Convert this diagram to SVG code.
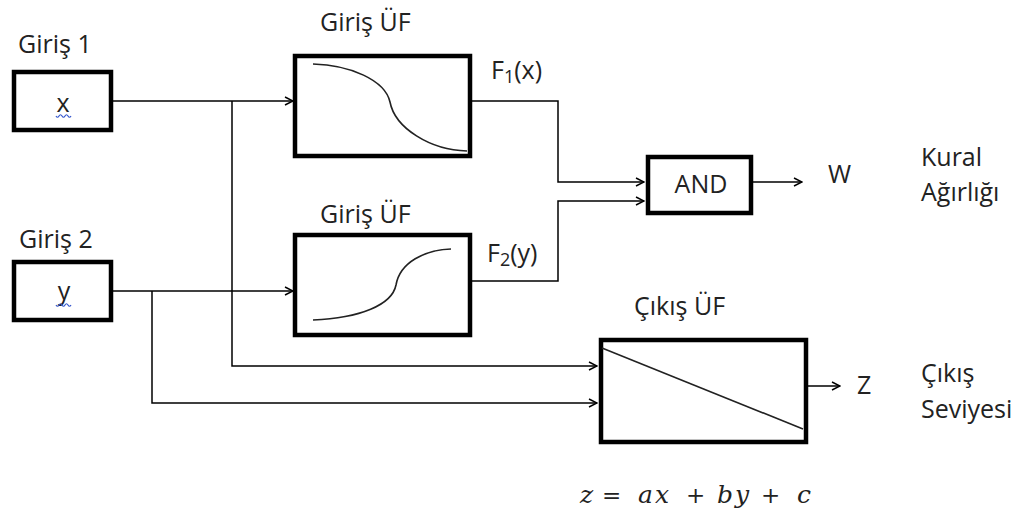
<svg xmlns="http://www.w3.org/2000/svg" width="1023" height="517" viewBox="0 0 1023 517">
  <style>
    .box { fill: #fff; stroke: #000; stroke-width: 4.5; }
    .wire { fill: none; stroke: #000; stroke-width: 1.5; }
    .curve { fill: none; stroke: #222; stroke-width: 1.6; }
    .lbl { font-family: "Open Sans", "Liberation Sans", sans-serif; font-size: 25px; fill: #222; }
    .var { font-family: "Open Sans", "Liberation Sans", sans-serif; font-size: 25px; fill: #222; text-anchor: middle; }
    .squig { fill: none; stroke: #3355cc; stroke-width: 1.2; }
    .eq { font-family: "DejaVu Serif", "Liberation Serif", serif; font-style: italic; font-size: 25px; letter-spacing: 2px; fill: #222; }
    .op { font-family: "DejaVu Serif", "Liberation Serif", serif; font-size: 23px; fill: #222; }
  </style>
  <defs>
    <marker id="arr" viewBox="0 0 10 10" refX="9" refY="5" markerWidth="10" markerHeight="10" markerUnits="userSpaceOnUse" orient="auto">
      <path d="M1,1 L9,5 L1,9" fill="none" stroke="#000" stroke-width="1.5"/>
    </marker>
  </defs>

  <rect width="1023" height="517" fill="#fff"/>

  <!-- connectors -->
  <g id="connectors">
    <path class="wire" d="M113,101 H293" marker-end="url(#arr)"/>
    <path class="wire" d="M232,101 V366 H597" marker-end="url(#arr)"/>
    <path class="wire" d="M113,291 H293" marker-end="url(#arr)"/>
    <path class="wire" d="M152,291 V403 H597" marker-end="url(#arr)"/>
    <path class="wire" d="M472,101 H558 V182 H644" marker-end="url(#arr)"/>
    <path class="wire" d="M472,281 H558 V201 H644" marker-end="url(#arr)"/>
    <path class="wire" d="M753,182 H802" marker-end="url(#arr)"/>
    <path class="wire" d="M808,386 H840" marker-end="url(#arr)"/>
  </g>

  <!-- input x -->
  <g id="input-x">
    <text class="lbl" x="18" y="53">Giriş 1</text>
    <rect class="box" x="14" y="72" width="97" height="58"/>
    <text class="var" x="63" y="112">x</text>
    <path class="squig" d="M56,116 q1.5,2.5 3,0 t3,0 t3,0 t3,0 t3,0"/>
  </g>

  <!-- input y -->
  <g id="input-y">
    <text class="lbl" x="19" y="248">Giriş 2</text>
    <rect class="box" x="14" y="262" width="97" height="58"/>
    <text class="var" x="64" y="300">y</text>
    <path class="squig" d="M56,305 q1.5,2.5 3,0 t3,0 t3,0 t3,0 t3,0"/>
  </g>

  <!-- input membership function 1 -->
  <g id="mf-x">
    <text class="lbl" x="320" y="31">Giriş ÜF</text>
    <rect class="box" x="295" y="56" width="175" height="100"/>
    <path class="curve" d="M313,64 C350,65 385,80 390,102 C395,128 430,150 467,151"/>
    <text class="lbl" x="491" y="79">F<tspan font-size="18" dy="4">1</tspan><tspan dy="-4">(x)</tspan></text>
  </g>

  <!-- input membership function 2 -->
  <g id="mf-y">
    <text class="lbl" x="320" y="223">Giriş ÜF</text>
    <rect class="box" x="295" y="235" width="175" height="100"/>
    <path class="curve" d="M313,320 C360,318 392,305 396,285 C400,262 425,250 451,249"/>
    <text class="lbl" x="487" y="262">F<tspan font-size="18" dy="4">2</tspan><tspan dy="-4">(y)</tspan></text>
  </g>

  <!-- AND -->
  <g id="and">
    <rect class="box" x="648" y="157" width="103" height="56"/>
    <text class="lbl" x="701" y="193" text-anchor="middle">AND</text>
    <text class="lbl" x="828" y="183">W</text>
    <text class="lbl" x="921" y="166">Kural</text>
    <text class="lbl" x="921" y="201">Ağırlığı</text>
  </g>

  <!-- output membership function -->
  <g id="mf-out">
    <text class="lbl" x="634" y="315">Çıkış ÜF</text>
    <rect class="box" x="601" y="340" width="205" height="102"/>
    <path class="curve" d="M602,348 L803,429"/>
    <text class="lbl" x="857" y="394">Z</text>
    <text class="lbl" x="921" y="382">Çıkış</text>
    <text class="lbl" x="921" y="418">Seviyesi</text>
  </g>

  <!-- output equation -->
  <g id="equation">
    <text class="eq" x="580" y="503">z</text>
    <text class="op" x="602" y="503">=</text>
    <text class="eq" x="638" y="503">ax</text>
    <text class="op" x="686" y="503">+</text>
    <text class="eq" x="717" y="503">by</text>
    <text class="op" x="761" y="503">+</text>
    <text class="eq" x="797" y="503">c</text>
  </g>
</svg>
